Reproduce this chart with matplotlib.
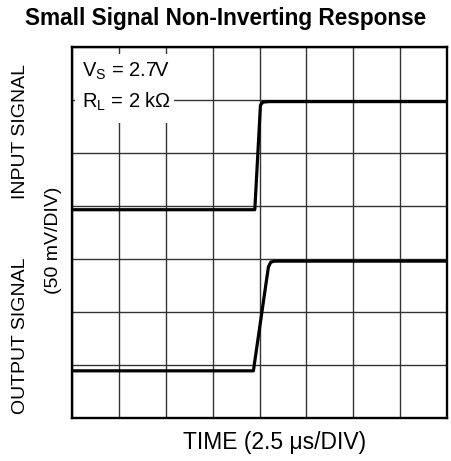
import matplotlib.pyplot as plt
from matplotlib.patches import Rectangle

plt.rcParams['font.family'] = ['Liberation Sans', 'DejaVu Sans']
plt.rcParams['mathtext.fontset'] = 'custom'
plt.rcParams['mathtext.rm'] = 'Liberation Sans'

# Scope traces, in divisions (x: 8 time divisions, y: 7 vertical divisions)
input_t = [0.0, 3.90, 4.02, 4.07, 4.20, 8.0]
input_v = [3.93, 3.93, 5.90, 5.96, 5.97, 5.97]
output_t = [0.0, 3.87, 4.19, 4.24, 4.32, 8.0]
output_v = [0.89, 0.89, 2.85, 2.94, 2.96, 2.96]

n_xdiv = 8
n_ydiv = 7

fig = plt.figure(figsize=(4.51, 4.61), dpi=100)
ax = fig.add_axes([72 / 451, 1 - 418 / 461, 375 / 451, 371 / 461])

ax.set_xlim(0, n_xdiv)
ax.set_ylim(0, n_ydiv)
ax.set_xticks(range(n_xdiv + 1))
ax.set_yticks(range(n_ydiv + 1))
ax.tick_params(length=0, labelbottom=False, labelleft=False)
ax.set_axisbelow(True)
ax.grid(True, color='#333333', linewidth=1.0)
for s in ax.spines.values():
    s.set_linewidth(1.7)
    s.set_color('black')

ax.plot(input_t, input_v, color='black', lw=2.3, solid_joinstyle='round', zorder=3)
ax.plot(output_t, output_v, color='black', lw=2.3, solid_joinstyle='round', zorder=3)

# white patch behind the conditions text
ax.add_patch(Rectangle((0.008, 0.795), 0.265, 0.185, transform=ax.transAxes,
                       facecolor='white', edgecolor='none', zorder=1))
ax.text(0.21, 6.55, r'V$_\mathregular{S}$ = 2.7V', fontsize=14.5, va='center', zorder=4)
ax.text(0.21, 5.96, r'R$_\mathregular{L}$ = 2 k$\Omega$', fontsize=14.5, va='center', zorder=4)

fig.text(0.5, 1 - 19 / 461, 'Small Signal Non-Inverting Response', fontsize=16.3,
         fontweight='bold', ha='center', va='center')
fig.text(275 / 451, 1 - 442 / 461, 'TIME (2.5 \u03bcs/DIV)', fontsize=16.5,
         ha='center', va='center')
fig.text(21 / 451, 1 - 131 / 461, 'INPUT SIGNAL', fontsize=14, rotation=90,
         ha='center', va='center')
fig.text(21 / 451, 1 - 336 / 461, 'OUTPUT SIGNAL', fontsize=14, rotation=90,
         ha='center', va='center')
fig.text(53 / 451, 1 - 240 / 461, '(50 mV/DIV)', fontsize=14, rotation=90,
         ha='center', va='center')

fig.savefig('out.png', dpi=100)
